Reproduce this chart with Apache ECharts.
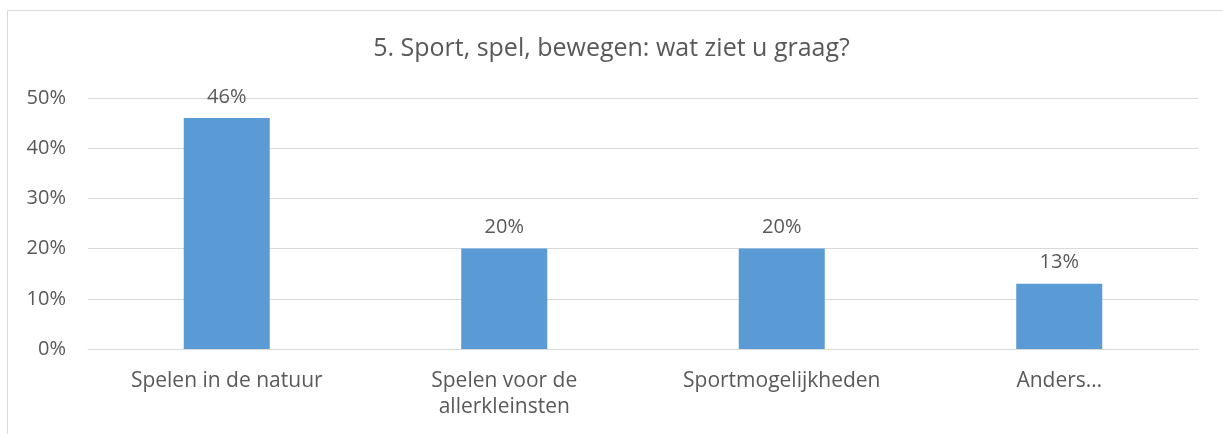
<!DOCTYPE html>
<html>
<head>
<meta charset="utf-8">
<script src="https://cdn.jsdelivr.net/npm/echarts@6/dist/echarts.min.js"></script>
<style>
  html, body { margin: 0; padding: 0; background: #fff; }
  #chart { width: 1223px; height: 434px; }
</style>
</head>
<body>
<div id="chart"></div>
<script>
const categories = ['Spelen in de natuur', 'Spelen voor de\nallerkleinsten', 'Sportmogelijkheden', 'Anders…']
const values = [46, 20, 20, 13]
const yTicks = [0, 10, 20, 30, 40, 50]

const textColor = '#595959'
const font = '"Open Sans", sans-serif'

const chart = echarts.init(document.getElementById('chart'))

chart.setOption({
  animation: false,
  title: {
    text: '5. Sport, spel, bewegen: wat ziet u graag?',
    left: 'center',
    top: 31,
    textStyle: { color: textColor, fontSize: 25, fontWeight: 'normal', fontFamily: font }
  },
  graphic: [
    {
      type: 'rect',
      shape: { x: 7.5, y: 10.5, width: 1300, height: 440 },
      style: { fill: 'none', stroke: '#d9d9d9', lineWidth: 1 },
      silent: true
    }
  ],
  grid: { left: 88, right: 25, top: 98, bottom: 85 },
  xAxis: {
    type: 'category',
    data: categories,
    axisLine: { lineStyle: { color: '#d9d9d9' } },
    axisTick: { show: false },
    axisLabel: { color: textColor, fontSize: 21, fontFamily: font, margin: 19, lineHeight: 26, interval: 0 }
  },
  yAxis: {
    type: 'value',
    min: yTicks[0],
    max: yTicks[yTicks.length - 1],
    interval: 10,
    axisLine: { show: false },
    axisTick: { show: false },
    splitLine: { lineStyle: { color: '#d9d9d9', width: 1 } },
    axisLabel: { color: textColor, fontSize: 20, fontFamily: font, margin: 22, formatter: '{value}%' }
  },
  series: [
    {
      type: 'bar',
      data: values,
      barWidth: '31%',
      itemStyle: { color: '#5b9bd5' },
      label: {
        show: true,
        position: 'top',
        distance: 11,
        formatter: '{c}%',
        color: textColor,
        fontSize: 20,
        fontFamily: font
      }
    }
  ]
})
</script>
</body>
</html>
